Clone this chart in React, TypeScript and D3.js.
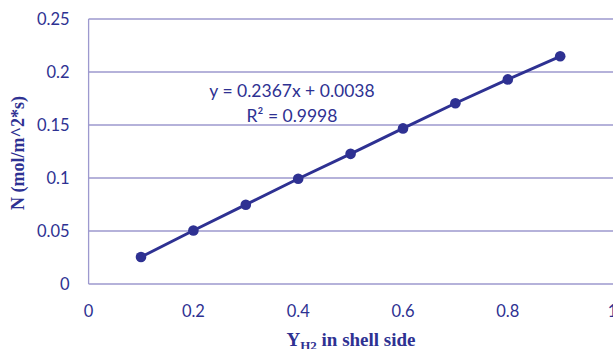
import React from 'react';
import * as d3 from 'd3';

// mole fraction of H2 on shell side vs flux
const xValues = [0.1, 0.2, 0.3, 0.4, 0.5, 0.6, 0.7, 0.8, 0.9];
const fluxValues = [0.0255, 0.0505, 0.0748, 0.0993, 0.1228, 0.1468, 0.1705, 0.193, 0.2148];
const xTicks = [0, 0.2, 0.4, 0.6, 0.8, 1];
const yTicks = [0, 0.05, 0.1, 0.15, 0.2, 0.25];
const eqLines = ['y = 0.2367x + 0.0038', 'R² = 0.9998'];

const W = 613;
const H = 349;
const main = '#2E3192';
const grid = '#9D99CE';
const tickFont = 'Lato, "Open Sans", sans-serif';

export default function App() {
  const x = d3.scaleLinear().domain([0, 1]).range([88.6, 612.6]);
  const y = d3.scaleLinear().domain([0, 0.25]).range([284, 19]);

  const data = xValues.map((v, i) => ({ x: v, y: fluxValues[i] }));
  const line = d3
    .line<{ x: number; y: number }>()
    .x(d => x(d.x))
    .y(d => y(d.y));

  return (
    <svg
      width={W}
      height={H}
      style={{ position: 'absolute', left: 0, top: 0 }}
      viewBox={`0 0 ${W} ${H}`}
    >
      <rect width={W} height={H} fill="#fff" />
      {yTicks.map(t => (
        <g key={t}>
          <line x1={x(0)} x2={W} y1={y(t)} y2={y(t)} stroke={grid} strokeWidth={1.3} />
          <text
            x={x(0) - 19}
            y={y(t)}
            dy="0.35em"
            textAnchor="end"
            fontFamily={tickFont}
            fontSize={16.5}
            fill={main}
          >
            {t}
          </text>
        </g>
      ))}
      <line x1={x(0)} x2={x(0)} y1={y(0.25)} y2={y(0)} stroke={grid} strokeWidth={1.3} />
      {xTicks.map(t => (
        <text
          key={t}
          x={x(t)}
          y={y(0) + 33}
          textAnchor="middle"
          fontFamily={tickFont}
          fontSize={16.5}
          fill={main}
        >
          {t}
        </text>
      ))}
      <path d={line(data) || ''} fill="none" stroke={main} strokeWidth={3} />
      {data.map((d, i) => (
        <circle key={i} cx={x(d.x)} cy={y(d.y)} r={5.3} fill={main} />
      ))}
      {eqLines.map((s, i) => (
        <text
          key={i}
          x={292}
          y={97 + i * 25}
          textAnchor="middle"
          fontFamily={tickFont}
          fontSize={17.5}
          fill={main}
        >
          {s}
        </text>
      ))}
      <text
        transform="translate(24,153) rotate(-90)"
        textAnchor="middle"
        fontFamily='"Liberation Serif", serif'
        fontWeight="bold"
        fontSize={18}
        fill={main}
      >
        N (mol/m^2*s)
      </text>
      <text
        x={351}
        y={346}
        textAnchor="middle"
        fontFamily='"Liberation Serif", serif'
        fontWeight="bold"
        fontSize={19}
        fill={main}
      >
        Y<tspan fontSize={13} dy={4}>H2</tspan>
        <tspan dy={-4}> in shell side</tspan>
      </text>
    </svg>
  );
}
